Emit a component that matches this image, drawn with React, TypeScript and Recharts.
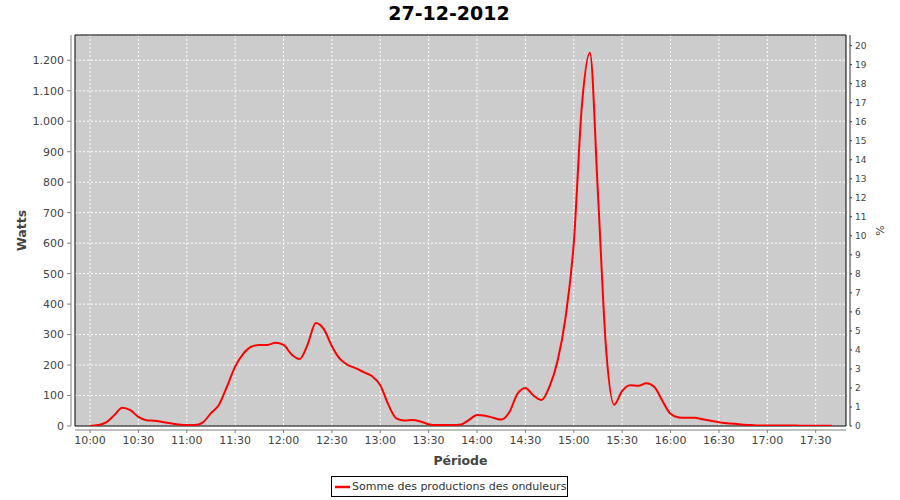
import { LineChart, Line, XAxis, YAxis, CartesianGrid, ReferenceArea, Label } from "recharts";

// minutes after 10:00, one reading every 5 minutes
const minutes = [
  0, 5, 10, 15, 20, 25, 30, 35, 40, 45, 50, 55,
  60, 65, 70, 75, 80, 85, 90, 95, 100, 105, 110, 115,
  120, 125, 130, 135, 140, 145, 150, 155, 160, 165, 170, 175,
  180, 185, 190, 195, 200, 205, 210, 215, 220, 225, 230, 235,
  240, 245, 250, 255, 260, 265, 270, 275, 280, 285, 290, 295,
  300, 305, 310, 315, 320, 325, 330, 335, 340, 345, 350, 355,
  360, 365, 370, 375, 380, 385, 390, 395, 400, 405, 410, 415,
  420, 425, 430, 435, 440, 445, 450, 455, 460,
];

// Somme des productions des onduleurs (W)
const watts = [
  0, 3, 12, 35, 60, 52, 30, 19, 17, 13, 9, 5,
  3, 3, 12, 42, 70, 130, 195, 237, 260, 266, 266, 273,
  266, 235, 220, 268, 338, 318, 262, 220, 200, 189, 176, 163,
  134, 70, 25, 18, 20, 15, 6, 3, 3, 3, 5, 20,
  36, 34, 27, 21, 45, 105, 125, 100, 85, 130, 215, 360,
  600, 1050, 1225, 760, 255, 70, 115, 134, 132, 140, 128, 82,
  40, 28, 27, 27, 22, 17, 12, 9, 7, 4, 3, 2,
  2, 2, 2, 2, 1, 1, 1, 1, 1,
];

const xTicks = [0, 30, 60, 90, 120, 150, 180, 210, 240, 270, 300, 330, 360, 390, 420, 450];
const wattTicks = [0, 100, 200, 300, 400, 500, 600, 700, 800, 900, 1000, 1100, 1200];
const pctTicks = [0, 1, 2, 3, 4, 5, 6, 7, 8, 9, 10, 11, 12, 13, 14, 15, 16, 17, 18, 19, 20];

const data = minutes.map((t, i) => ({ t, w: watts[i] }));

const X_DOMAIN: [number, number] = [-9.3, 468.8];
const W_DOMAIN: [number, number] = [0, 1283];
const P_DOMAIN: [number, number] = [0, 20.56];

const FONT = "'DejaVu Sans', sans-serif";

const fmtTime = (m: number) => {
  const h = 10 + Math.floor(m / 60);
  const mm = m % 60;
  return `${h}:${mm < 10 ? "0" : ""}${mm}`;
};

const fmtWatts = (v: number) => (v >= 1000 ? `${Math.floor(v / 1000)}.${String(v % 1000).padStart(3, "0")}` : `${v}`);

export default function App() {
  return (
    <div style={{ position: "absolute", left: 0, top: 0, width: 900, height: 500, background: "#fff", fontFamily: FONT }}>
      <div
        style={{
          position: "absolute",
          left: 0,
          width: 898,
          top: 2,
          textAlign: "center",
          fontSize: 19,
          fontWeight: "bold",
          lineHeight: "22px",
          color: "#000",
        }}
      >
        27-12-2012
      </div>

      <LineChart width={900} height={500} data={data} margin={{ top: 35, right: 0, bottom: 0, left: 0 }}>
        <CartesianGrid
          yAxisId="w"
          fill="#cccccc"
          stroke="#ffffff"
          strokeDasharray="2 2"
          verticalValues={xTicks}
        />
        <XAxis
          dataKey="t"
          type="number"
          domain={X_DOMAIN}
          ticks={xTicks}
          tickFormatter={fmtTime}
          allowDataOverflow
          height={74}
          tickSize={3}
          tickMargin={7}
          axisLine={{ stroke: "#808080", transform: "translate(0,4)" }}
          tickLine={{ stroke: "#808080", transform: "translate(0,4)" }}
          tick={{ fontSize: 11, fill: "#444", fontFamily: FONT }}
        >
          <Label
            content={({ viewBox }: any) => (
              <text
                x={viewBox.x + viewBox.width / 2}
                y={viewBox.y + 39}
                textAnchor="middle"
                fontSize={12.5}
                fontWeight="bold"
                fill="#444"
                fontFamily={FONT}
              >
                Période
              </text>
            )}
          />
        </XAxis>
        <YAxis
          yAxisId="w"
          orientation="left"
          type="number"
          domain={W_DOMAIN}
          ticks={wattTicks}
          tickFormatter={fmtWatts}
          allowDataOverflow
          width={75}
          tickSize={4}
          tickMargin={7}
          axisLine={{ stroke: "#808080", transform: "translate(-4,0)" }}
          tickLine={{ stroke: "#808080", transform: "translate(-4,0)" }}
          tick={{ fontSize: 11, fill: "#444", fontFamily: FONT }}
        >
          <Label
            content={({ viewBox }: any) => {
              const cx = viewBox.x + 26;
              const cy = viewBox.y + viewBox.height / 2;
              return (
                <text
                  x={cx}
                  y={cy}
                  transform={`rotate(-90 ${cx} ${cy})`}
                  textAnchor="middle"
                  fontSize={12.5}
                  fontWeight="bold"
                  fill="#444"
                  fontFamily={FONT}
                >
                  Watts
                </text>
              );
            }}
          />
        </YAxis>
        <YAxis
          yAxisId="p"
          orientation="right"
          type="number"
          domain={P_DOMAIN}
          ticks={pctTicks}
          allowDataOverflow
          width={54}
          tickSize={2}
          tickMargin={7}
          axisLine={{ stroke: "#333", transform: "translate(4,0)" }}
          tickLine={{ stroke: "#333", transform: "translate(4,0)" }}
          tick={{ fontSize: 9, fill: "#444", fontFamily: FONT }}
        >
          <Label
            content={({ viewBox }: any) => {
              const cx = viewBox.x + 38;
              const cy = viewBox.y + viewBox.height / 2;
              return (
                <text
                  x={cx}
                  y={cy}
                  transform={`rotate(-90 ${cx} ${cy})`}
                  textAnchor="middle"
                  fontSize={11}
                  fill="#444"
                  fontFamily={FONT}
                >
                  %
                </text>
              );
            }}
          />
        </YAxis>
        <ReferenceArea
          yAxisId="w"
          x1={X_DOMAIN[0]}
          x2={X_DOMAIN[1]}
          y1={W_DOMAIN[0]}
          y2={W_DOMAIN[1]}
          fill="none"
          fillOpacity={0}
          stroke="#000"
          strokeWidth={1}
          ifOverflow="visible"
        />
        <Line
          yAxisId="w"
          type="monotone"
          dataKey="w"
          stroke="#ff0000"
          strokeWidth={2}
          dot={false}
          isAnimationActive={false}
        />
      </LineChart>

      <div
        style={{
          position: "absolute",
          left: 331,
          top: 476,
          width: 235,
          height: 19,
          border: "1px solid #000",
          background: "#fff",
          display: "flex",
          alignItems: "center",
          fontSize: 11,
          color: "#333",
          whiteSpace: "nowrap",
        }}
      >
        <svg width={20} height={19} style={{ flex: "none" }}>
          <line x1={3} y1={10} x2={18} y2={10} stroke="#ff0000" strokeWidth={2.5} />
        </svg>
        <span>Somme des productions des onduleurs</span>
      </div>
    </div>
  );
}
